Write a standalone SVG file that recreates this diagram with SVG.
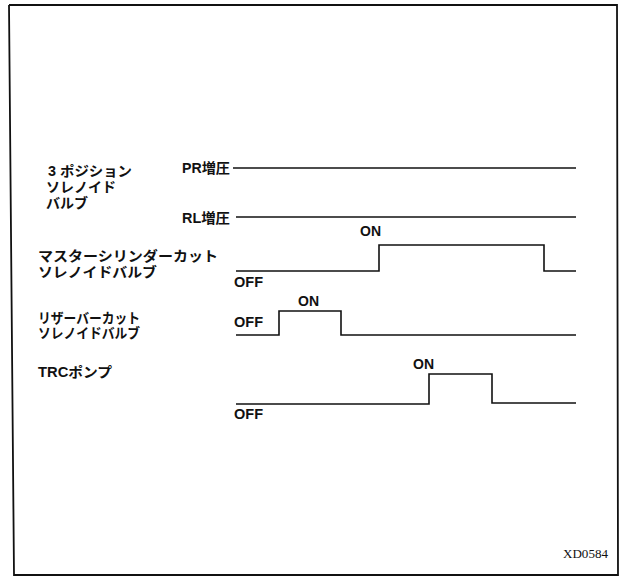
<svg xmlns="http://www.w3.org/2000/svg" width="627" height="576" viewBox="0 0 627 576">
<style>
.t{font-family:"Liberation Sans","Noto Sans CJK JP",sans-serif;font-size:14px;fill:#111;font-weight:bold}
.s{font-family:"Liberation Sans","Noto Sans CJK JP",sans-serif;font-size:14px;fill:#111;font-weight:bold}
.w{fill:none;stroke:#111;stroke-width:1.6}
.f{fill:none;stroke:#111;stroke-width:1.8}
.c{font-family:"Liberation Serif",serif;font-size:12px;fill:#111}
</style>
<rect width="627" height="576" fill="#fff"/>
<polyline class="f" points="9,5 617,5 618,575 14,575 9,5"/>
<g id="valve3">
<text class="t" x="48" y="176" textLength="84" lengthAdjust="spacingAndGlyphs">3 ポジション</text>
<text class="t" x="46" y="192">ソレノイド</text>
<text class="t" x="46" y="208">バルブ</text>
</g>
<g id="pr">
<text class="s" x="182" y="173" textLength="48" lengthAdjust="spacingAndGlyphs">PR増圧</text>
</g>
<g id="rl">
<text class="s" x="182" y="223" textLength="48" lengthAdjust="spacingAndGlyphs">RL増圧</text>
</g>
<g id="master">
<text class="t" x="38" y="261" textLength="180" lengthAdjust="spacingAndGlyphs">マスターシリンダーカット</text>
<text class="t" x="38" y="277" textLength="119" lengthAdjust="spacingAndGlyphs">ソレノイドバルブ</text>
<text class="s" x="234" y="287" textLength="29" lengthAdjust="spacingAndGlyphs">OFF</text>
<text class="s" x="360" y="236">ON</text>
</g>
<g id="reservoir">
<text class="t" x="38" y="323" textLength="102" lengthAdjust="spacingAndGlyphs">リザーバーカット</text>
<text class="t" x="38" y="338" textLength="102" lengthAdjust="spacingAndGlyphs">ソレノイドバルブ</text>
<text class="s" x="234" y="327" textLength="29" lengthAdjust="spacingAndGlyphs">OFF</text>
<text class="s" x="298" y="306">ON</text>
</g>
<g id="trc">
<text class="t" x="38" y="377" textLength="74" lengthAdjust="spacingAndGlyphs">TRCポンプ</text>
<text class="s" x="234" y="419" textLength="29" lengthAdjust="spacingAndGlyphs">OFF</text>
<text class="s" x="413" y="369">ON</text>
</g>
<g id="waveforms">
<polyline class="w" points="233,168 576,168"/>
<polyline class="w" points="236,217 576,217"/>
<polyline class="w" points="236,271 379,271 379,245 544,245 544,271 576,271"/>
<polyline class="w" points="236,335 279,335 279,311 341,311 341,335 576,335"/>
<polyline class="w" points="236,404 429,404 429,374 492,374 492,403 576,403"/>
</g>
<text class="c" x="563" y="558" textLength="45" lengthAdjust="spacingAndGlyphs">XD0584</text>
</svg>
